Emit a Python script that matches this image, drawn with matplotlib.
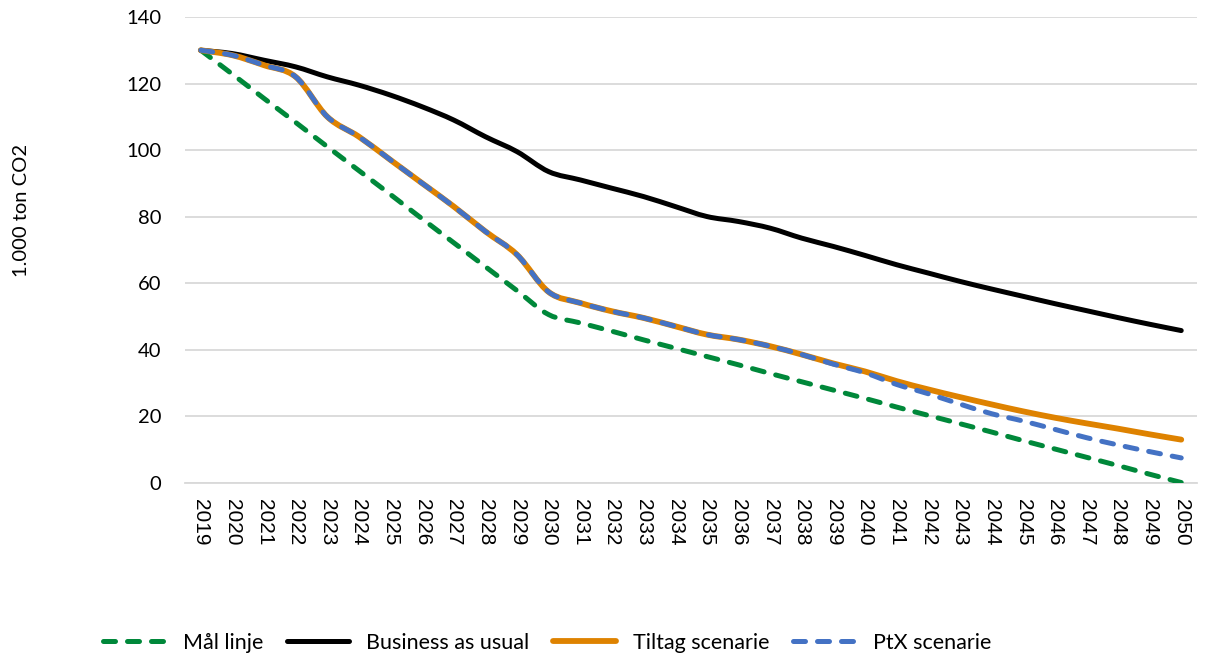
import matplotlib
matplotlib.use('Agg')
import matplotlib.pyplot as plt
from matplotlib.path import Path
from matplotlib.patches import PathPatch
from matplotlib.lines import Line2D
import numpy as np

years = [str(y) for y in range(2019, 2051)]

maal_linje = [130, 122.8, 115.5, 108.3, 101, 93.8, 86.6, 79.3, 72.1, 64.9, 57.7, 50.5,
              48, 45.5, 42.9, 40.4, 37.9, 35.4, 32.8, 30.3, 27.8, 25.3, 22.7, 20.2,
              17.7, 15.2, 12.6, 10.1, 7.6, 5.1, 2.5, 0]
business_as_usual = [130, 129, 127, 125, 122, 119.5, 116.5, 113, 109, 104, 99.5, 93.5,
                     91, 88.5, 86, 83, 80, 78.5, 76.5, 73.5, 71, 68.3, 65.5, 63,
                     60.5, 58.2, 56, 53.8, 51.7, 49.6, 47.6, 45.7]
tiltag = [130, 128.5, 125.5, 122, 110, 104, 97, 90, 83, 75.5, 68.5, 57.3,
          54, 51.5, 49.5, 47, 44.5, 43, 41, 38.5, 35.8, 33.4, 30.5, 28,
          25.7, 23.5, 21.4, 19.5, 17.8, 16.2, 14.5, 12.9]
ptx = [130, 128.5, 125.5, 122, 110, 104, 97, 90, 83, 75.5, 68.5, 57.3,
       54, 51.5, 49.5, 47, 44.5, 43, 41, 38.5, 35.6, 33, 29.5, 26.7,
       23.6, 20.7, 18.5, 16, 13.5, 11.3, 9.3, 7.4]

labels = ['Mål linje', 'Business as usual', 'Tiltag scenarie', 'PtX scenarie']
colors = ['#00883A', '#000000', '#DE8200', '#4472C4']
styles = [(0, (2.4, 2.4)), '-', '-', (0, (2.4, 2.4))]
widths = [3.6, 3.6, 4.2, 3.6]


def smooth_path(x, y):
  # excel style smoothed line, bezier segments through every point
  p = np.column_stack([x, y]).astype(float)
  pts = np.vstack([p[0], p, p[-1]])
  verts = [p[0]]
  codes = [Path.MOVETO]
  for i in range(1, len(pts) - 2):
    c1 = pts[i] + (pts[i + 1] - pts[i - 1]) / 6
    c2 = pts[i + 1] - (pts[i + 2] - pts[i]) / 6
    verts += [c1, c2, pts[i + 1]]
    codes += [Path.CURVE4] * 3
  return Path(verts, codes)


fig = plt.figure(figsize=(12.05, 6.64), dpi=100)
ax = fig.add_axes([0.1535, 0.2733, 0.8399, 0.7011])

x = np.arange(len(years))
for vals, c, ls, lw in zip([maal_linje, business_as_usual, tiltag, ptx], colors, styles, widths):
  patch = PathPatch(smooth_path(x, vals), fill=False, edgecolor=c, linewidth=lw,
                    linestyle=ls, capstyle='round', joinstyle='round', zorder=3)
  ax.add_patch(patch)

ax.set_xlim(-0.5, len(years) - 0.5)
ax.set_ylim(0, 140)
ax.set_yticks(range(0, 141, 20))
ax.set_xticks(x)
ax.set_xticklabels(years, rotation=-90, fontsize=15, family='Liberation Sans')
for t in ax.get_yticklabels():
  t.set_fontsize(14.5)
  t.set_family('Lato')
ax.tick_params(length=0)
ax.tick_params(axis='x', pad=12)
ax.tick_params(axis='y', pad=17)
ax.grid(axis='y', color='#D9D9D9', linewidth=1.3)
ax.set_axisbelow(True)
for s in ['top', 'right', 'left']:
  ax.spines[s].set_visible(False)
ax.spines['bottom'].set_color('#D9D9D9')
ax.spines['bottom'].set_linewidth(1.3)

fig.text(22 / 1205, 1 - 210 / 664, '1.000 ton CO2', rotation=90, ha='center', va='center',
         fontsize=14.5, family='Lato')

handles = [Line2D([], [], color=c, linestyle=ls, linewidth=lw, dash_capstyle='round',
                  solid_capstyle='round') for c, ls, lw in zip(colors, styles, widths)]
fig.legend(handles, labels, loc='center', bbox_to_anchor=(0.454, 0.032), ncol=4,
           frameon=False, prop={'family': 'Lato', 'size': 15.5}, handlelength=2.9,
           handletextpad=0.8, columnspacing=1.1)

fig.savefig('out.png', dpi=100)
